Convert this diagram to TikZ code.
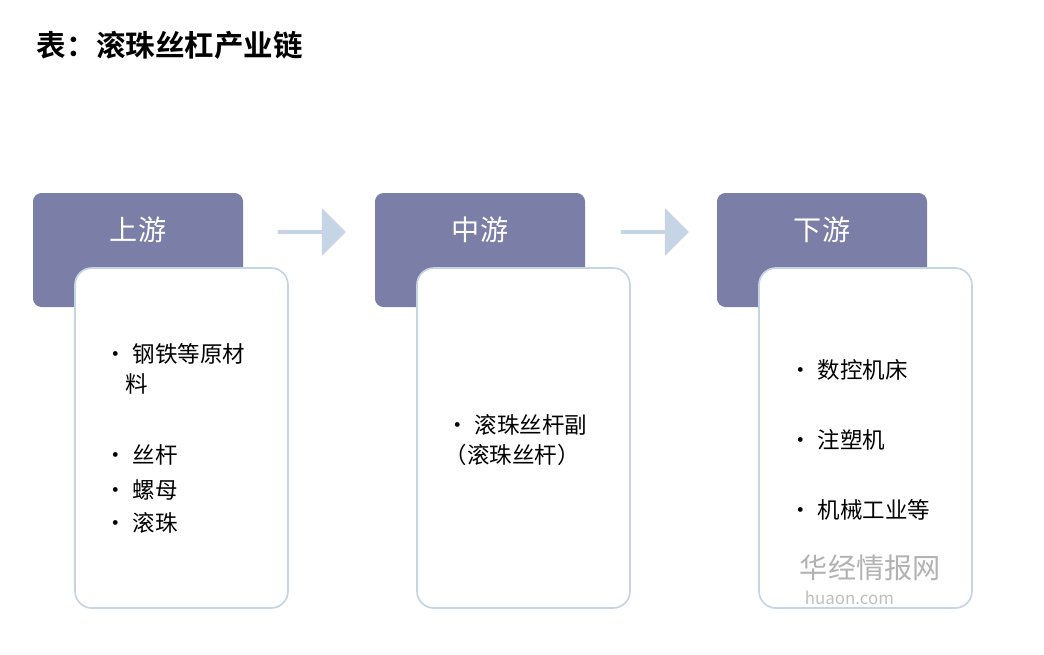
\documentclass[tikz,border=0pt]{standalone}
\usepackage{fontspec}
\setmainfont{Noto Sans CJK SC}
\newfontfamily\titlefont{Noto Sans CJK SC Bold}
\usetikzlibrary{shapes.arrows}
\definecolor{headcol}{HTML}{7B7EA6}
\definecolor{edgecol}{HTML}{C5D5E5}
\tikzset{
  headbox/.style={draw=none, fill=headcol, rounded corners=6pt},
  bodybox/.style={draw=edgecol, line width=1.2pt, fill=white, rounded corners=12pt},
  headtext/.style={text=white, font=\fontsize{20}{24}\selectfont},
  item/.style={anchor=west, align=left, font=\fontsize{16}{21}\selectfont},
  flow/.style={single arrow, fill=edgecol, draw=none, minimum height=1.7cm, minimum width=1.2cm, single arrow head extend=0.08cm, inner sep=0pt}
}
\begin{document}
\begin{tikzpicture}[x=0.025cm, y=-0.025cm]
\useasboundingbox (0,0) rectangle (1044,654);
%% title
\node[anchor=west, font=\titlefont\fontsize{21}{24}\selectfont] (title) at (32,45) {表：滚珠丝杠产业链};

%% stages
\foreach \x/\name/\lbl in {0/up/上游, 342/mid/中游, 684/down/下游}{
  \draw[headbox] (33+\x,193) rectangle (243+\x,307);
  \node[headtext] (\name_head) at (138+\x,230) {\lbl};
  \draw[bodybox] (75+\x,268) rectangle (288+\x,608);
}

%% arrows
\node[flow] (arr1) at (311,232) {};
\node[flow] (arr2) at (654,232) {};

%% upstream items
\node[item] (up_a) at (100,369) {• 钢铁等原材\\\hspace{0.9em}料};
\node[item] (up_b) at (100,455) {• 丝杆};
\node[item] (up_c) at (100,490) {• 螺母};
\node[item] (up_d) at (100,523) {• 滚珠};

%% midstream items
\node[item] (mid_a) at (442,440) {• 滚珠丝杆副\\\hspace{-0.1em}（滚珠丝杆）};

%% downstream items
\node[item] (down_a) at (785,370) {• 数控机床};
\node[item] (down_b) at (785,440) {• 注塑机};
\node[item] (down_c) at (785,510) {• 机械工业等};

%% watermark
\node[anchor=west, text=black!30, font=\fontsize{20}{22}\selectfont] (wm) at (795,568) {华经情报网};
\node[anchor=west, text=black!25, font=\fontsize{12}{14}\selectfont] (wm2) at (800,598) {huaon.com};
\end{tikzpicture}
\end{document}
